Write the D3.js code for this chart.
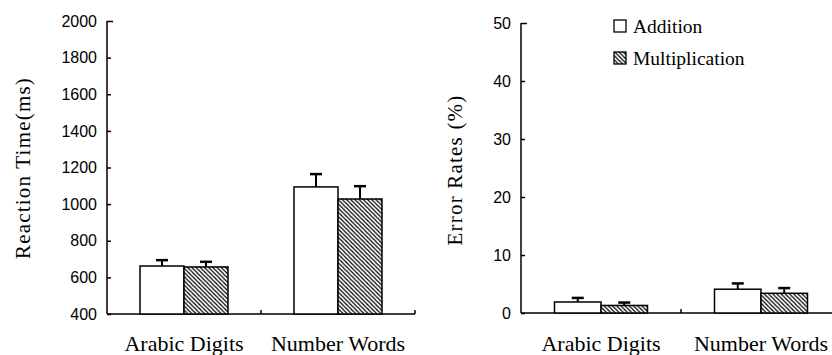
<!DOCTYPE html>
<html><head><meta charset="utf-8">
<script src="https://cdn.jsdelivr.net/npm/d3@7"></script>
</head><body style="margin:0;background:#fff">
<script>
const categories = ["Arabic Digits", "Number Words"];
const seriesNames = ["Addition", "Multiplication"];
const rtValues = [[662, 657], [1094, 1028]];
const rtErrors = [[32, 28], [70, 70]];
const erValues = [[1.9, 1.3], [4.1, 3.4]];
const erErrors = [[0.7, 0.5], [1.0, 0.9]];
const rtTicks = [400, 600, 800, 1000, 1200, 1400, 1600, 1800, 2000];
const erTicks = [0, 10, 20, 30, 40, 50];

const FONT = '"Liberation Serif", "Times New Roman", serif';
const TICKFONT = '"Liberation Sans", Arial, sans-serif';
const svg = d3.select("body").append("svg").attr("width", 832).attr("height", 355).style("display", "block");
const defs = svg.append("defs");
const pat = defs.append("pattern").attr("id", "hatch").attr("patternUnits", "userSpaceOnUse")
  .attr("width", 4.2).attr("height", 4.2);
pat.append("rect").attr("width", 4.2).attr("height", 4.2).attr("fill", "#fff");
pat.append("path").attr("d", "M-1,-1 L5.2,5.2 M-1,3.2 L1,5.2 M3.2,-1 L5.2,1")
  .attr("stroke", "#000").attr("stroke-width", 1.2);

function panel(cfg) {
  const g = svg.append("g");
  const y = d3.scaleLinear().domain(cfg.domain).range([cfg.bottom, cfg.top]);
  const x = d3.scaleBand().domain(categories).range([cfg.left, cfg.left + 2 * cfg.band]);
  const ya = d3.axisLeft(y).tickValues(cfg.ticks).tickSize(-4).tickPadding(10).tickFormat(d3.format("d"));
  const yg = g.append("g").attr("transform", `translate(${cfg.left},0)`).call(ya);
  yg.select(".domain").attr("d", `M0,${cfg.top}V${cfg.bottom}`).attr("stroke-width", 1.5);
  yg.selectAll(".tick line").attr("stroke-width", 1.5).attr("x2", d => d === cfg.domain[1] ? 6 : 4);
  yg.selectAll(".tick text").style("font-family", TICKFONT).style("font-size", "16px").attr("fill", "#000");
  g.append("line").attr("x1", cfg.left).attr("x2", cfg.xEnd).attr("y1", cfg.bottom).attr("y2", cfg.bottom)
    .attr("stroke", "#000").attr("stroke-width", 1.5);
  const tickXs = [cfg.left + cfg.band, cfg.left + 2 * cfg.band];
  g.selectAll(".xt").data(tickXs.filter(t => t <= cfg.xEnd)).join("line")
    .attr("x1", d => d).attr("x2", d => d).attr("y1", cfg.bottom).attr("y2", cfg.bottom - 4)
    .attr("stroke", "#000").attr("stroke-width", 1.5);
  g.selectAll(".cl").data(categories).join("text")
    .attr("x", d => x(d) + x.bandwidth() / 2).attr("y", 350.5)
    .attr("text-anchor", "middle").style("font-family", FONT).style("font-size", "22px").text(d => d);
  categories.forEach((c, ci) => {
    const cx = x(c) + x.bandwidth() / 2;
    seriesNames.forEach((s, si) => {
      const v = cfg.values[ci][si], e = cfg.errors[ci][si];
      const x0 = cx + (si - 1) * cfg.barW;
      const bx = x0 + cfg.barW / 2;
      g.append("line").attr("x1", bx).attr("x2", bx).attr("y1", y(v)).attr("y2", y(v + e))
        .attr("stroke", "#000").attr("stroke-width", 2);
      g.append("line").attr("x1", bx - 6).attr("x2", bx + 6).attr("y1", y(v + e)).attr("y2", y(v + e))
        .attr("stroke", "#000").attr("stroke-width", 2.5);
      g.append("rect").attr("x", x0).attr("y", y(v)).attr("width", cfg.barW).attr("height", cfg.bottom - y(v))
        .attr("fill", si === 0 ? "#fff" : "url(#hatch)").attr("stroke", "#000").attr("stroke-width", 1.5);
    });
  });
  g.append("text").attr("transform", `translate(${cfg.titleX},${cfg.titleY}) rotate(-90)`)
    .attr("text-anchor", "middle").attr("dominant-baseline", "central")
    .style("font-family", FONT).style("font-size", cfg.titleSize + "px").style("letter-spacing", cfg.titleLS + "px")
    .text(cfg.title);
}

panel({domain: [400, 2000], ticks: rtTicks, top: 21, bottom: 314, left: 107, band: 154, xEnd: 415,
  barW: 44, values: rtValues, errors: rtErrors, title: "Reaction Time(ms)", titleX: 23, titleY: 168,
  titleSize: 21, titleLS: 1.2});
panel({domain: [0, 50], ticks: erTicks, top: 23, bottom: 313, left: 521, band: 160, xEnd: 832,
  barW: 46.5, values: erValues, errors: erErrors, title: "Error Rates (%)", titleX: 455, titleY: 170,
  titleSize: 21, titleLS: 1.2});

const leg = svg.append("g");
seriesNames.forEach((s, i) => {
  const ly = 20 + i * 32;
  leg.append("rect").attr("x", 614).attr("y", ly).attr("width", 12).attr("height", 12)
    .attr("fill", i === 0 ? "#fff" : "url(#hatch)").attr("stroke", "#000").attr("stroke-width", 1.3);
  leg.append("text").attr("x", 633).attr("y", ly + 13).style("font-family", FONT).style("font-size", "19.5px").text(s);
});
</script>
</body></html>
